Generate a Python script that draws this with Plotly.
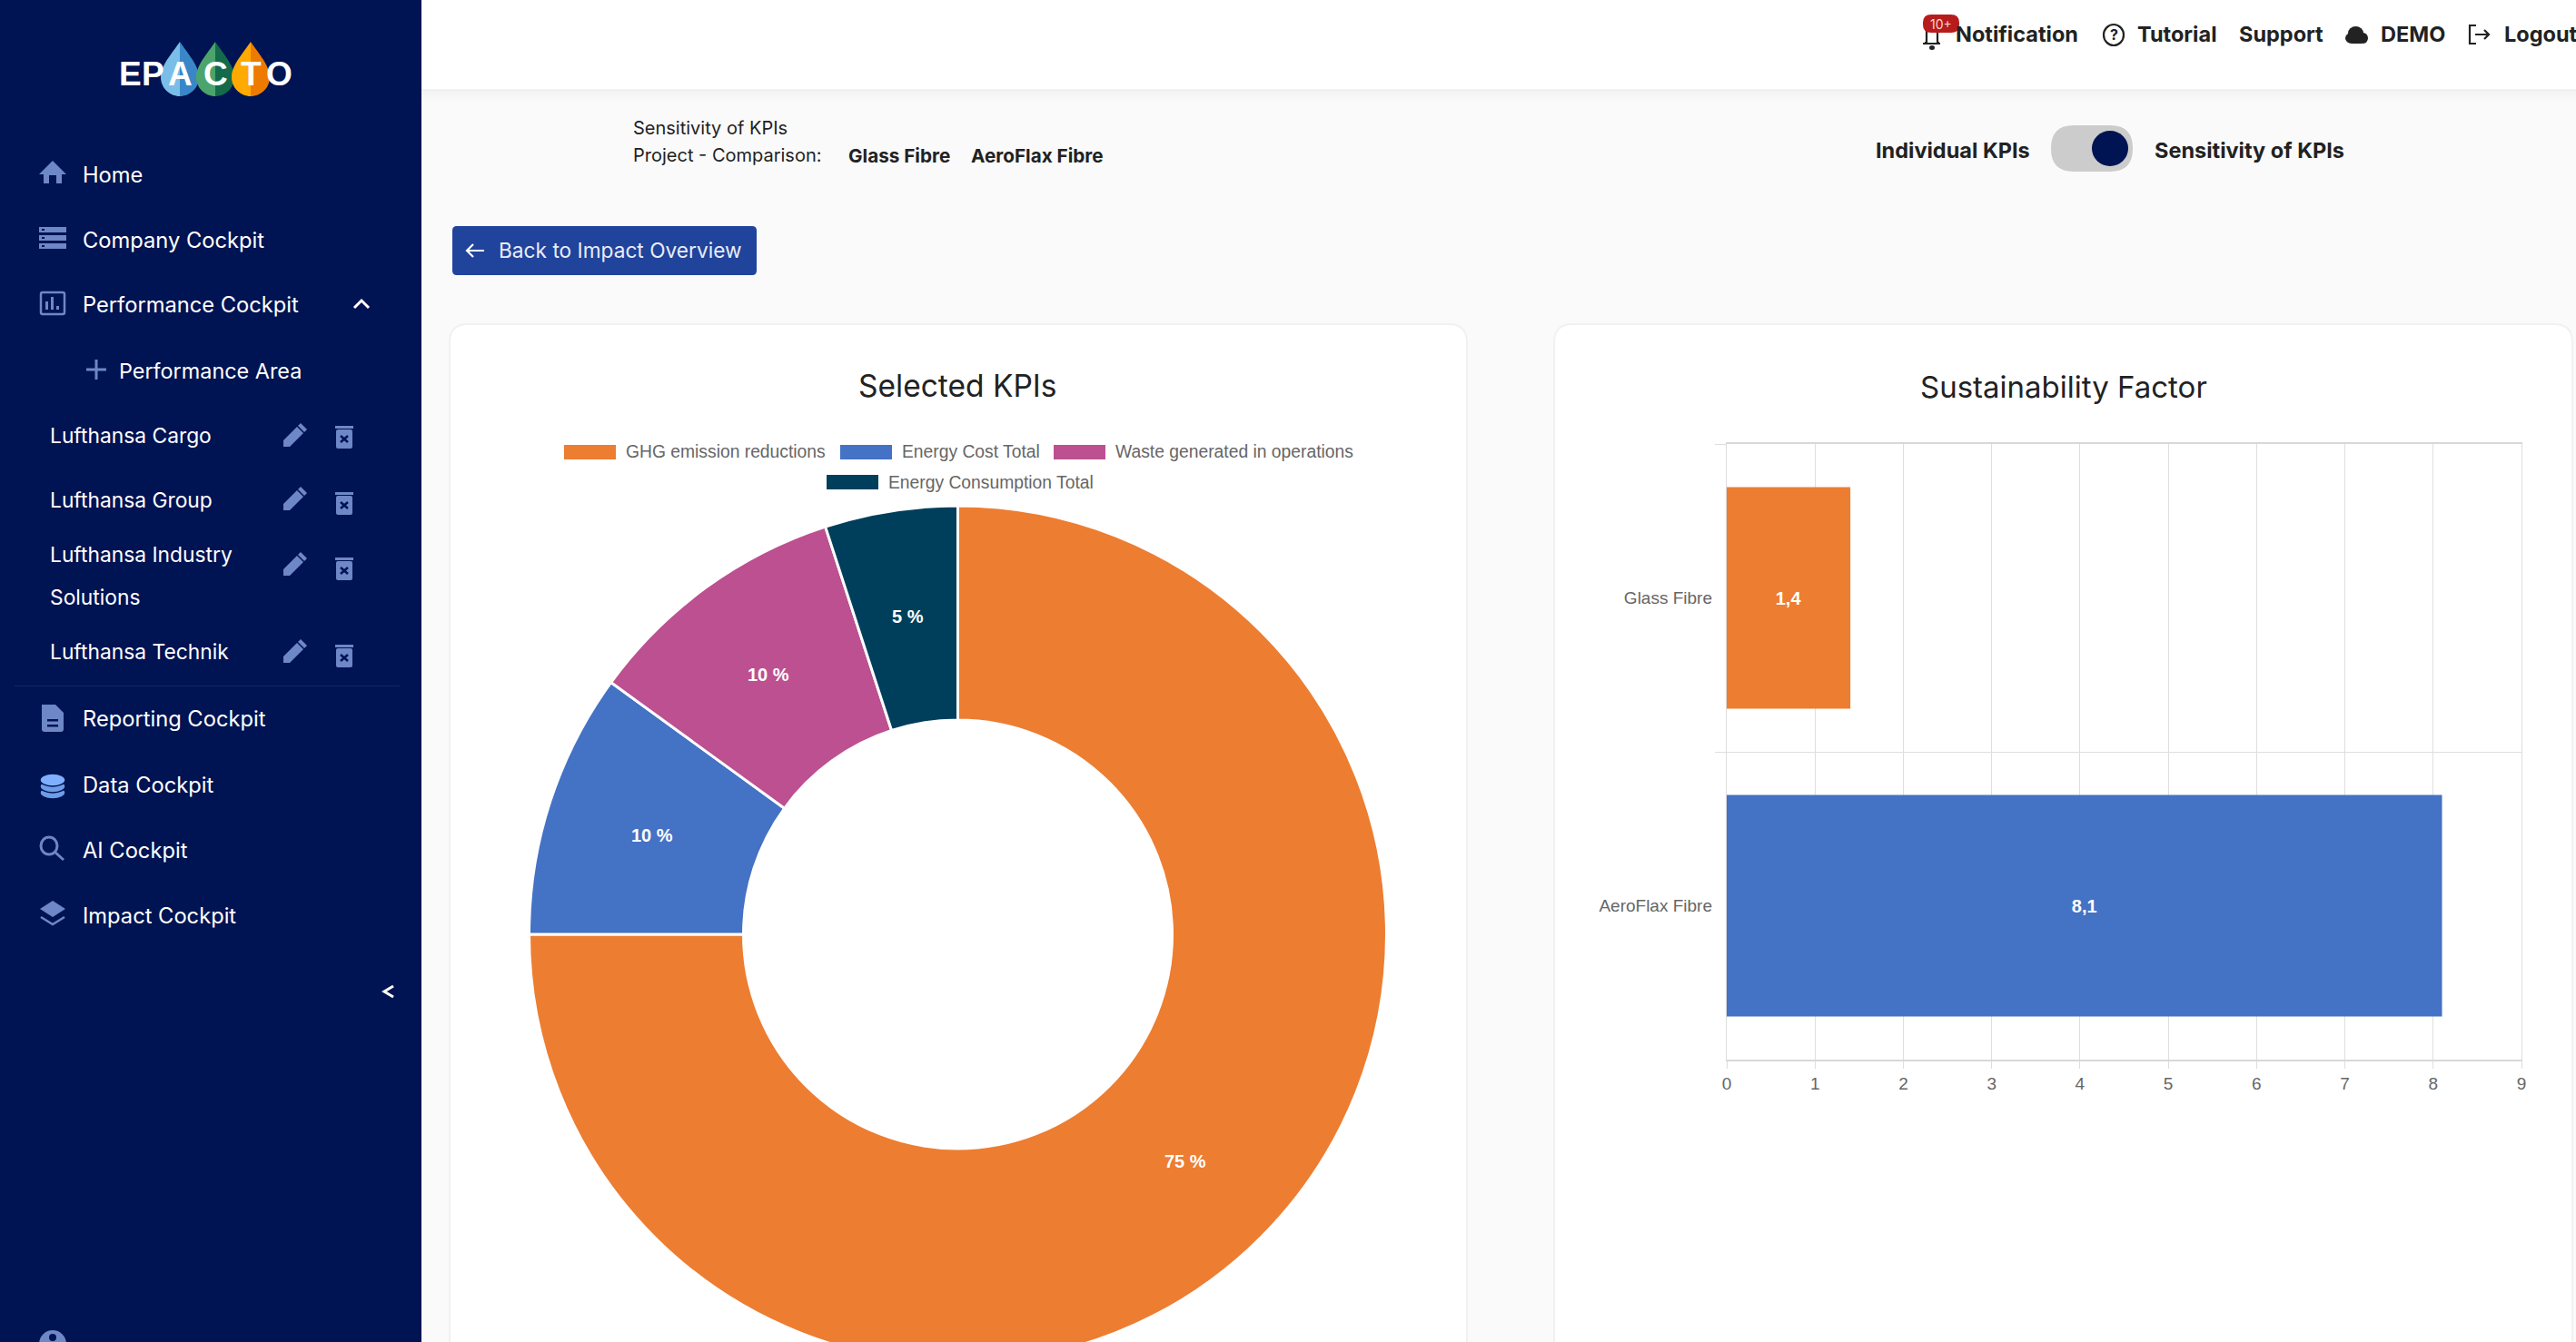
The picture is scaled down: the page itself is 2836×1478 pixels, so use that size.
import math
import plotly.graph_objects as go

kpi_labels = ["GHG emission reductions", "Energy Cost Total", "Waste generated in operations", "Energy Consumption Total"]
kpi_values = [75, 10, 10, 5]
kpi_colors = ["#ED7D31", "#4472C4", "#BC5090", "#003F5C"]
projects = ["Glass Fibre", "AeroFlax Fibre"]
factors = [1.4, 8.1]
project_colors = ["#ED7D31", "#4472C4"]
x_ticks = [0, 1, 2, 3, 4, 5, 6, 7, 8, 9]

W, H = 2836, 1510
NAVY = "#001352"
ICON = "#6E87C6"
UI = "Inter"
CH = "Liberation Sans"

def fx(x): return x / W
def fy(y): return 1 - y / H

shapes, notes = [], []

def P(d, fill=None, line=None, lw=0):
    out, i = [], 0
    for t in d.split():
        if t.isalpha():
            out.append(t)
        else:
            out.append(f"{fx(float(t)) if i % 2 == 0 else fy(float(t)):.6f}")
            i += 1
    shapes.append(dict(type="path", path=" ".join(out), xref="paper", yref="paper", layer="below",
                       fillcolor=fill or "rgba(0,0,0,0)",
                       line=dict(color=line or "rgba(0,0,0,0)", width=lw)))

def R(x0, y0, x1, y1, fill, kind="rect", line=None, lw=0, op=1):
    shapes.append(dict(type=kind, xref="paper", yref="paper", layer="below", x0=fx(x0), x1=fx(x1),
                       y0=fy(y1), y1=fy(y0), fillcolor=fill, opacity=op,
                       line=dict(color=line or "rgba(0,0,0,0)", width=lw)))

def RR(x0, y0, x1, y1, r, fill, line=None, lw=0):
    P(f"M {x0+r} {y0} L {x1-r} {y0} Q {x1} {y0} {x1} {y0+r} L {x1} {y1-r} Q {x1} {y1} {x1-r} {y1} "
      f"L {x0+r} {y1} Q {x0} {y1} {x0} {y1-r} L {x0} {y0+r} Q {x0} {y0} {x0+r} {y0} Z", fill, line, lw)

def T(x, y, s, size, color, anchor="left", font=UI, bold=False):
    notes.append(dict(x=fx(x), y=fy(y), xref="paper", yref="paper", text=f"<b>{s}</b>" if bold else s,
                      showarrow=False, xanchor=anchor, yanchor="middle", borderpad=0,
                      font=dict(family=font, size=size, color=color)))

# page chrome
R(0, 0, W, H, "#FAFAFA")
for i, o in enumerate([.035, .028, .021, .015, .010, .006]):
    R(464, 98 + i * 2, W, 100 + i * 2, "#000000", op=o)
R(464, 0, W, 98, "#FFFFFF")
R(0, 0, 464, H, NAVY)

# logo
for cx, a, b in [(198, "#7ABDE8", "#3A87C8"), (237, "#4CA46C", "#136B4C"), (276, "#FFAA00", "#EE7A00")]:
    P(f"M {cx} 46 C {cx-8} 58 {cx-21} 72 {cx-21} 85 C {cx-21} 97 {cx-11} 106 {cx} 106 Z", a)
    P(f"M {cx} 46 C {cx+8} 58 {cx+21} 72 {cx+21} 85 C {cx+21} 97 {cx+11} 106 {cx} 106 Z", b)
for cx, ch in [(143, "E"), (168, "P"), (198, "A"), (237, "C"), (276, "T"), (307, "O")]:
    T(cx, 82, ch, 37, "#FFFFFF", "center", CH, True)

# sidebar text
for y, s in [(192, "Home"), (264, "Company Cockpit"), (336, "Performance Cockpit"), (792, "Reporting Cockpit"),
             (864, "Data Cockpit"), (936, "AI Cockpit"), (1008, "Impact Cockpit")]:
    T(90, y, s, 23.7, "#FFFFFF")
T(130, 408, "Performance Area", 23.4, "#FFFFFF")
for y, s in [(479, "Lufthansa Cargo"), (550, "Lufthansa Group"), (610, "Lufthansa Industry"),
             (658, "Solutions"), (718, "Lufthansa Technik")]:
    T(54, y, s, 22.8, "#FFFFFF")
R(16, 755, 440, 756, "#12296B")

# sidebar icons
P("M 43 192 L 58 177 L 73 192 L 68 192 L 68 202 L 62 202 L 62 193 L 54 193 L 54 202 L 48 202 L 48 192 Z", ICON)
for y in (250, 259, 268):
    R(43, y, 73, y + 6, ICON)
    R(46, y + 2, 49, y + 4, NAVY)
RR(45, 322, 71, 346, 2, "rgba(0,0,0,0)", ICON, 2.5)
for x, t in ((51, 332), (57, 327), (63, 337)):
    R(x - 1, t, x + 2, 341, ICON)
P("M 390 339 L 398 331 L 406 339", None, "#FFFFFF", 3)
P("M 95 407 L 117 407 M 106 396 L 106 418", None, ICON, 3)
for yc in (479, 549, 621, 717):
    P(f"M 312 {yc+13} L 312 {yc+6} L 331 {yc-13} L 338 {yc-6} L 319 {yc+13} Z", ICON)
    P(f"M 327 {yc-10} L 335 {yc-2}", None, NAVY, 1.6)
for yc in (481, 554, 626, 722):
    R(369, yc - 12, 389, yc - 9, ICON)
    RR(370, yc - 8, 388, yc + 13, 2, ICON)
    P(f"M 375 {yc-1} L 383 {yc+6} M 383 {yc-1} L 375 {yc+6}", None, NAVY, 2.5)
P("M 46 776 L 61 776 L 70 785 L 70 803 Q 70 806 67 806 L 49 806 Q 46 806 46 803 Z", ICON)
R(52, 792, 64, 794.5, NAVY)
R(52, 798, 64, 800.5, NAVY)
for y0, c in ((866, "#6E9CE8"), (859, "#6E9CE8"), (852, "#7FB0FF")):
    R(44, y0, 72, y0 + 14, c, "circle", NAVY, 1.5)
R(45, 922, 63, 941, "rgba(0,0,0,0)", "circle", ICON, 3)
P("M 60 938 L 70 947", None, ICON, 3)
P("M 58 992 L 72 1001 L 58 1010 L 44 1001 Z", ICON)
P("M 45 1010 L 58 1018 L 71 1010", None, ICON, 2.5)
P("M 433 1086 L 423 1092 L 433 1098", None, "#FFFFFF", 3)
R(43, 1465, 73, 1495, ICON, "circle")
R(54, 1469, 62, 1477, NAVY, "circle")

# header
for x, s in [(2152, "Notification"), (2352, "Tutorial"), (2464, "Support"), (2620, "DEMO"), (2756, "Logout")]:
    T(x, 38, s, 23.5, "#222222", bold=True)
P("M 2119 47 L 2121 47 L 2121 30 L 2133 30 L 2133 47 L 2135 47", None, "#222222", 2.2)
R(2117, 47, 2136, 49, "#222222")
R(2124, 50, 2130, 55, "#222222", "circle")
RR(2117, 16, 2157, 36, 9, "#B71C1C")
T(2137, 26, "10+", 14, "#F7D5D5", "center")
R(2316, 27, 2338, 50, "rgba(0,0,0,0)", "circle", "#222222", 2.2)
T(2327, 38.5, "?", 16, "#222222", "center", bold=True)
R(2582, 36, 2596, 48, "#222222", "circle")
R(2596, 36, 2607, 48, "#222222", "circle")
R(2585, 29, 2602, 44, "#222222", "circle")
R(2590, 40, 2600, 48, "#222222")
P("M 2726 28 L 2719 28 L 2719 48 L 2726 48", None, "#222222", 2.2)
P("M 2725 38 L 2740 38 M 2735 33 L 2740 38 L 2735 43", None, "#222222", 2.2)

# toolbar
T(696, 141, "Sensitivity of KPIs", 20, "#222222")
T(696, 171, "Project - Comparison:", 20, "#222222")
T(933, 171, "Glass Fibre", 20.7, "#222222", bold=True)
T(1068, 171, "AeroFlax Fibre", 20.7, "#222222", bold=True)
T(2064, 165, "Individual KPIs", 23.5, "#222222", bold=True)
T(2371, 165, "Sensitivity of KPIs", 23.5, "#222222", bold=True)
RR(2258, 138, 2348, 189, 25, "#CCCCCC")
R(2303, 144, 2343, 183, NAVY, "circle")
RR(498, 249, 833, 303, 5, "#20439B")
P("M 514 276 L 533 276 M 521 269 L 514 276 L 521 283", None, "#FFFFFF", 2.2)
T(548, 276, "Back to Impact Overview", 22.7, "#E8ECF8")

# cards
RR(495, 357, 1615, 1560, 20, "#FFFFFF", "#F1F1F1", 2)
RR(1711, 357, 2832, 1560, 20, "#FFFFFF", "#F1F1F1", 2)
T(1054.5, 425, "Selected KPIs", 33.5, "#222222", "center")
T(2272, 426, "Sustainability Factor", 33, "#222222", "center")

# legend, built from the KPI arrays
for (sx, sy), lab, col in zip([(621, 498), (925, 498), (1160, 498), (910, 531)], kpi_labels, kpi_colors):
    R(sx, sy - 8, sx + 57, sy + 8, col)
    T(sx + 67, sy, lab, 19.3, "#666666", font=CH)

CX, CY, RAD = 1054.5, 1029, 472
HOLE = 0.5

# slice labels sit at mid-ring of each slice, derived from the values
total, run = sum(kpi_values), 0
for v in kpi_values:
    a = 2 * math.pi * (run + v / 2) / total
    rm = RAD * (1 + HOLE) / 2
    T(CX + rm * math.sin(a), CY - rm * math.cos(a), f"{v} %", 20, "#FFFFFF", "center", CH, True)
    run += v

fig = go.Figure()
fig.add_trace(go.Pie(
    labels=kpi_labels, values=kpi_values, sort=False, direction="clockwise", rotation=0, hole=HOLE,
    marker=dict(colors=kpi_colors, line=dict(color="#FFFFFF", width=3)), textinfo="none",
    domain=dict(x=[fx(CX - RAD), fx(CX + RAD)], y=[fy(CY + RAD), fy(CY - RAD)]),
    showlegend=False, hoverinfo="skip"))
fig.add_trace(go.Bar(
    x=factors, y=projects, orientation="h", width=0.72,
    marker=dict(color=project_colors, line=dict(width=0)),
    texttemplate="%{x:.1f}", textposition="inside", insidetextanchor="middle", textangle=0,
    textfont=dict(family=CH, size=20, color="#FFFFFF", weight="bold"),
    showlegend=False, hoverinfo="skip"))

fig.update_layout(
    width=W, height=H, autosize=False, margin=dict(l=0, r=0, t=0, b=0, autoexpand=False), separators=",.",
    paper_bgcolor="rgba(0,0,0,0)", plot_bgcolor="rgba(0,0,0,0)",
    shapes=shapes, annotations=notes,
    xaxis=dict(domain=[fx(1901), fx(2776)], range=[0, 9], tickvals=x_ticks, showgrid=True, gridcolor="#DEDEDE",
               gridwidth=1.4, ticks="outside", ticklen=8, tickcolor="#DEDEDE", tickwidth=1.4, showline=True,
               linecolor="#D8D8D8", linewidth=2, mirror=True, zeroline=False, anchor="y",
               tickfont=dict(family=CH, size=19, color="#666666")),
    yaxis=dict(domain=[fy(1167), fy(489)], range=[1.5, -0.5], type="category", categoryorder="array",
               categoryarray=projects, tickson="boundaries", showgrid=True, gridcolor="#DEDEDE", gridwidth=1.4,
               ticks="outside", ticklen=12, tickcolor="#DEDEDE", tickwidth=1.4, showline=True, linecolor="#DDDDDD",
               linewidth=1.4, mirror=True, zeroline=False, anchor="x", ticklabelstandoff=11,
               tickfont=dict(family=CH, size=19, color="#666666")),
)

fig.write_html("out.html", config=dict(displayModeBar=False),
               post_script="document.documentElement.style.overflow='hidden';"
                           "document.body.style.overflow='hidden';document.body.style.margin='0';")
